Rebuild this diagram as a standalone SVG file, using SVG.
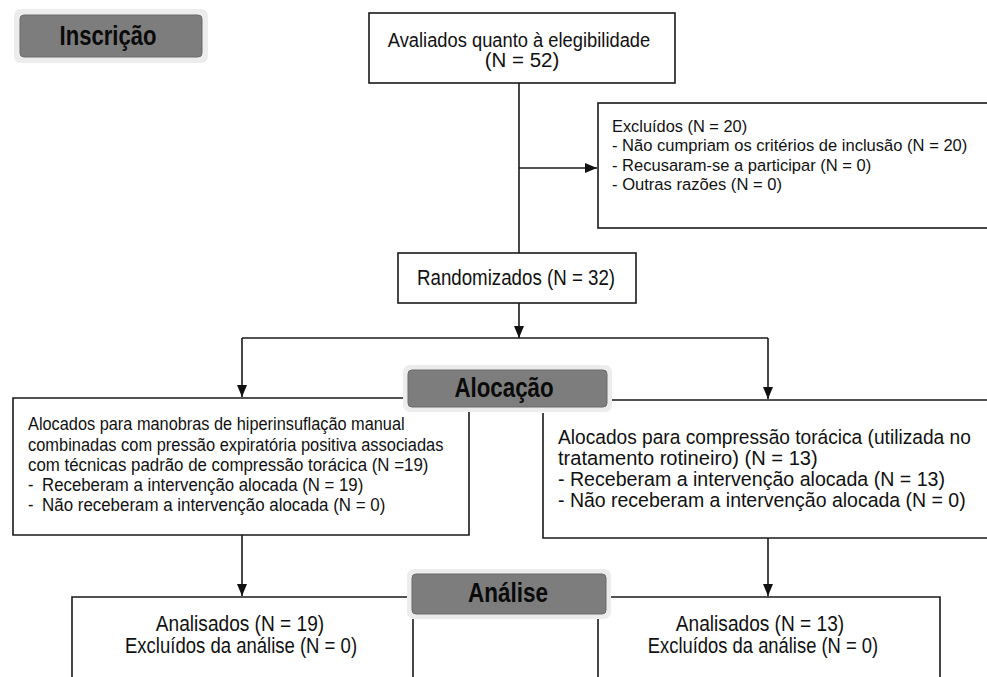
<svg xmlns="http://www.w3.org/2000/svg" width="987" height="677" viewBox="0 0 987 677">
<style>
.t{font-family:"Liberation Sans",Arial,sans-serif;fill:#111;}
.box{fill:#fff;stroke:#1a1a1a;stroke-width:1.6;}
.ln{fill:none;stroke:#1a1a1a;stroke-width:1.6;}
.halo{fill:#ececec;}
.lab{fill:#7d7d7d;stroke:#6a6a6a;stroke-width:1;}
.lt{font-family:"Liberation Sans",Arial,sans-serif;font-weight:bold;fill:#0a0a0a;}
</style>
<defs>
<marker id="ah" viewBox="0 0 12 10" refX="12" refY="5" markerWidth="12" markerHeight="10" markerUnits="userSpaceOnUse" orient="auto">
<path d="M0,0 L12,5 L0,10 z" fill="#111"/>
</marker>
</defs>
<rect width="987" height="677" fill="#fff"/>

<g id="connectors">
<line class="ln" x1="519" y1="83" x2="519" y2="253"/>
<line class="ln" x1="519" y1="168" x2="597" y2="168" marker-end="url(#ah)"/>
<line class="ln" x1="519" y1="303" x2="519" y2="338" marker-end="url(#ah)"/>
<line class="ln" x1="242" y1="338" x2="768" y2="338"/>
<line class="ln" x1="242" y1="338" x2="242" y2="397" marker-end="url(#ah)"/>
<line class="ln" x1="768" y1="338" x2="768" y2="399" marker-end="url(#ah)"/>
<line class="ln" x1="242" y1="535" x2="242" y2="596" marker-end="url(#ah)"/>
<line class="ln" x1="768" y1="538" x2="768" y2="596" marker-end="url(#ah)"/>
</g>

<g id="label-inscricao">
<rect class="halo" x="14" y="9" width="194" height="54" rx="7"/>
<rect class="lab" x="20" y="15" width="182" height="42" rx="4"/>
<g transform="matrix(0.8,0,0,1,108,0)">
<text class="lt" font-size="27" x="0" y="45" text-anchor="middle" textLength="121" lengthAdjust="spacingAndGlyphs">Inscrição</text>
</g>
</g>

<g id="node-avaliados">
<rect class="box" x="369" y="13" width="306" height="70"/>
<g transform="matrix(0.82,0,0,1,519,0)">
<text class="t" font-size="19.5" x="0" y="47" text-anchor="middle" textLength="320" lengthAdjust="spacingAndGlyphs">Avaliados quanto à elegibilidade</text>
<text class="t" font-size="19.5" x="3.6" y="67" text-anchor="middle" textLength="91" lengthAdjust="spacingAndGlyphs">(N = 52)</text>
</g>
</g>

<g id="node-excluidos">
<rect class="box" x="598" y="103" width="400" height="125"/>
<g transform="matrix(0.85,0,0,1,612,0)">
<text class="t" font-size="17" x="0" y="132" textLength="159" lengthAdjust="spacingAndGlyphs">Excluídos (N = 20)</text>
<text class="t" font-size="17" x="0" y="151.5" textLength="418" lengthAdjust="spacingAndGlyphs">- Não cumpriam os critérios de inclusão (N = 20)</text>
<text class="t" font-size="17" x="0" y="171" textLength="305" lengthAdjust="spacingAndGlyphs">- Recusaram-se a participar (N = 0)</text>
<text class="t" font-size="17" x="0" y="190.5" textLength="200" lengthAdjust="spacingAndGlyphs">- Outras razões (N = 0)</text>
</g>
</g>

<g id="node-randomizados">
<rect class="box" x="398" y="253" width="238" height="50"/>
<g transform="matrix(0.85,0,0,1,417,0)">
<text class="t" font-size="22" x="0" y="285" textLength="233" lengthAdjust="spacingAndGlyphs">Randomizados (N = 32)</text>
</g>
</g>

<g id="node-alocados-hiper">
<path class="ln" d="M403,398 H13 V535 H469 V412"/>
<g transform="matrix(0.88,0,0,1,28,0)">
<text class="t" font-size="18.5" x="0" y="430.5" textLength="428" lengthAdjust="spacingAndGlyphs">Alocados para manobras de hiperinsuflação manual</text>
<text class="t" font-size="18.5" x="0" y="451" textLength="472" lengthAdjust="spacingAndGlyphs">combinadas com pressão expiratória positiva associadas</text>
<text class="t" font-size="18.5" x="0" y="471" textLength="455" lengthAdjust="spacingAndGlyphs">com técnicas padrão de compressão torácica (N =19)</text>
<text class="t" font-size="18.5" x="0" y="491">-</text>
<text class="t" font-size="18.5" x="16" y="491" textLength="365" lengthAdjust="spacingAndGlyphs">Receberam a intervenção alocada (N = 19)</text>
<text class="t" font-size="18.5" x="0" y="511">-</text>
<text class="t" font-size="18.5" x="16" y="511" textLength="390" lengthAdjust="spacingAndGlyphs">Não receberam a intervenção alocada (N = 0)</text>
</g>
</g>

<g id="node-alocados-compressao">
<path class="ln" d="M612,400 H990 M990,538 H543 V413"/>
<g transform="matrix(0.86,0,0,1,558,0)">
<text class="t" font-size="19.5" x="0" y="444" textLength="480" lengthAdjust="spacingAndGlyphs">Alocados para compressão torácica (utilizada no</text>
<text class="t" font-size="19.5" x="0" y="465" textLength="302" lengthAdjust="spacingAndGlyphs">tratamento rotineiro) (N = 13)</text>
<text class="t" font-size="19.5" x="0" y="486" textLength="450" lengthAdjust="spacingAndGlyphs">- Receberam a intervenção alocada (N = 13)</text>
<text class="t" font-size="19.5" x="0" y="507" textLength="474" lengthAdjust="spacingAndGlyphs">- Não receberam a intervenção alocada (N = 0)</text>
</g>
</g>

<g id="label-alocacao">
<rect class="halo" x="403" y="365" width="209" height="47" rx="7"/>
<rect class="lab" x="408" y="370" width="199" height="37" rx="4"/>
<g transform="matrix(0.8,0,0,1,504,0)">
<text class="lt" font-size="28" x="0" y="397" text-anchor="middle" textLength="124" lengthAdjust="spacingAndGlyphs">Alocação</text>
</g>
</g>

<g id="node-analisados-19">
<path class="ln" d="M407,597 H72 V680 M413,619 V680"/>
<g transform="matrix(0.85,0,0,1,240,0)">
<text class="t" font-size="22" x="0" y="631" text-anchor="middle" textLength="198" lengthAdjust="spacingAndGlyphs">Analisados (N = 19)</text>
<text class="t" font-size="22" x="1.2" y="653" text-anchor="middle" textLength="273" lengthAdjust="spacingAndGlyphs">Excluídos da análise (N = 0)</text>
</g>
</g>

<g id="node-analisados-13">
<path class="ln" d="M611,597 H940 V680 M598,619 V680"/>
<g transform="matrix(0.85,0,0,1,760,0)">
<text class="t" font-size="22" x="0" y="631" text-anchor="middle" textLength="198" lengthAdjust="spacingAndGlyphs">Analisados (N = 13)</text>
<text class="t" font-size="22" x="3.5" y="653" text-anchor="middle" textLength="271" lengthAdjust="spacingAndGlyphs">Excluídos da análise (N = 0)</text>
</g>
</g>

<g id="label-analise">
<rect class="halo" x="407" y="569" width="204" height="50" rx="7"/>
<rect class="lab" x="412" y="574" width="194" height="40" rx="4"/>
<g transform="matrix(0.8,0,0,1,508,0)">
<text class="lt" font-size="28" x="0" y="602" text-anchor="middle" textLength="100" lengthAdjust="spacingAndGlyphs">Análise</text>
</g>
</g>
</svg>
